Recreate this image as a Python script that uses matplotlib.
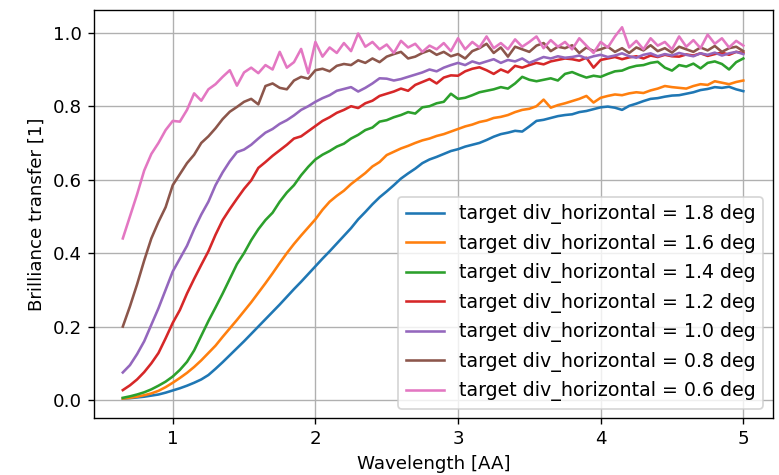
import numpy as np
import matplotlib
matplotlib.use("Agg")
import matplotlib.pyplot as plt

# wavelength grid [AA], 0.65 .. 5.00 in 0.05 steps
wavelength = np.round(np.arange(0.65, 5.0001, 0.05), 2)

# brilliance transfer, one list per divergence
div_1p8 = [
    .004, .005, .007, .009, .012, .015, .020, .026, .032, .039,
    .047, .056, .068, .085, .103, .122, .141, .160, .180, .200,
    .220, .240, .260, .281, .302, .322, .343, .364, .385, .405,
    .426, .447, .468, .492, .512, .533, .552, .568, .585, .603,
    .617, .630, .645, .655, .662, .670, .678, .683, .690, .695,
    .700, .708, .717, .724, .728, .733, .731, .745, .760, .763,
    .768, .773, .776, .778, .784, .787, .792, .797, .799, .796,
    .790, .801, .807, .814, .820, .822, .826, .829, .830, .834,
    .838, .844, .847, .852, .850, .853, .846, .841,
]
div_1p6 = [
    .004, .006, .009, .013, .018, .025, .035, .047, .060, .074,
    .090, .108, .128, .148, .172, .195, .218, .242, .266, .292,
    .318, .345, .373, .400, .425, .448, .470, .492, .518, .540,
    .556, .570, .588, .603, .618, .636, .648, .667, .676, .685,
    .692, .700, .707, .712, .719, .724, .731, .738, .745, .750,
    .757, .761, .768, .771, .776, .784, .790, .793, .800, .818,
    .796, .803, .808, .814, .820, .828, .810, .823, .828, .832,
    .830, .835, .838, .836, .843, .848, .855, .852, .850, .848,
    .855, .860, .858, .868, .864, .860, .866, .870,
]
div_1p4 = [
    .006, .010, .015, .021, .029, .039, .050, .064, .082, .104,
    .135, .175, .215, .252, .290, .330, .370, .400, .435, .465,
    .490, .510, .540, .565, .585, .612, .635, .655, .668, .678,
    .690, .698, .712, .722, .735, .742, .758, .762, .770, .776,
    .784, .780, .797, .800, .808, .812, .834, .820, .823, .830,
    .838, .842, .846, .852, .848, .862, .880, .872, .868, .872,
    .876, .870, .888, .893, .885, .878, .883, .880, .888, .895,
    .897, .905, .910, .912, .918, .921, .905, .897, .912, .908,
    .916, .903, .918, .922, .915, .900, .920, .930,
]
div_1p2 = [
    .027, .040, .056, .076, .100, .128, .168, .210, .245, .290,
    .330, .368, .405, .450, .490, .520, .548, .575, .598, .632,
    .648, .665, .680, .695, .712, .718, .732, .746, .760, .770,
    .782, .790, .800, .795, .808, .815, .828, .834, .840, .848,
    .842, .858, .866, .874, .862, .878, .884, .883, .895, .902,
    .906, .898, .888, .900, .892, .910, .905, .912, .918, .914,
    .922, .926, .930, .928, .924, .932, .905, .926, .930, .934,
    .928, .933, .936, .930, .938, .934, .940, .936, .935, .941,
    .938, .944, .937, .942, .946, .940, .948, .945,
]
div_1p0 = [
    .075, .095, .125, .160, .205, .250, .300, .350, .385, .420,
    .465, .505, .540, .585, .620, .650, .675, .682, .695, .712,
    .728, .738, .752, .762, .775, .790, .800, .812, .822, .830,
    .842, .847, .852, .840, .850, .862, .876, .875, .870, .874,
    .880, .886, .892, .900, .895, .905, .912, .918, .912, .922,
    .916, .922, .928, .918, .926, .922, .930, .918, .926, .934,
    .930, .936, .932, .934, .938, .930, .936, .940, .934, .938,
    .944, .936, .932, .940, .944, .936, .942, .938, .945, .940,
    .936, .944, .940, .946, .938, .944, .948, .942,
]
div_0p8 = [
    .200, .255, .315, .380, .440, .485, .525, .585, .615, .645,
    .668, .700, .718, .740, .765, .785, .798, .812, .820, .805,
    .855, .862, .850, .846, .870, .880, .875, .898, .902, .895,
    .910, .915, .912, .925, .918, .930, .920, .935, .942, .948,
    .930, .935, .945, .952, .940, .948, .936, .942, .930, .950,
    .958, .970, .945, .960, .935, .962, .955, .948, .965, .972,
    .950, .962, .958, .966, .945, .960, .950, .955, .962, .948,
    .958, .945, .960, .952, .966, .950, .958, .946, .962, .955,
    .948, .960, .952, .964, .948, .958, .962, .950,
]
div_0p6 = [
    .440, .500, .560, .625, .670, .700, .735, .760, .758, .790,
    .835, .815, .846, .860, .880, .898, .856, .892, .905, .890,
    .912, .900, .948, .905, .920, .956, .890, .975, .935, .960,
    .945, .972, .950, .998, .962, .975, .955, .968, .945, .978,
    .960, .970, .948, .965, .955, .972, .950, .985, .955, .975,
    .960, .990, .958, .972, .955, .982, .962, .975, .990, .958,
    .980, .962, .975, .955, .985, .965, .945, .975, .960, .990,
    1.015, .960, .978, .955, .985, .965, .975, .955, .990, .962,
    .980, .958, .995, .970, .985, .960, .978, .965,
]

series = [div_1p8, div_1p6, div_1p4, div_1p2, div_1p0, div_0p8, div_0p6]
divergences = [1.8, 1.6, 1.4, 1.2, 1.0, 0.8, 0.6]

plt.rcParams["font.size"] = 10.6

dpi = 124
fig, ax = plt.subplots(figsize=(779 / dpi, 475 / dpi), dpi=dpi)
fig.subplots_adjust(left=94 / 779, right=772.7 / 779,
                    top=1 - 10 / 475, bottom=1 - 418.3 / 475)

for vals, div in zip(series, divergences):
    ax.plot(wavelength, vals, label=f"target div_horizontal = {div} deg")

ax.set_xlim(0.448, 5.206)
ax.set_ylim(-0.0498, 1.062)
ax.set_xlabel("Wavelength [AA]")
ax.set_ylabel("Brilliance transfer [1]")
ax.grid()
ax.legend(loc="lower right", fontsize=11)

fig.savefig("out.png", dpi=dpi)
